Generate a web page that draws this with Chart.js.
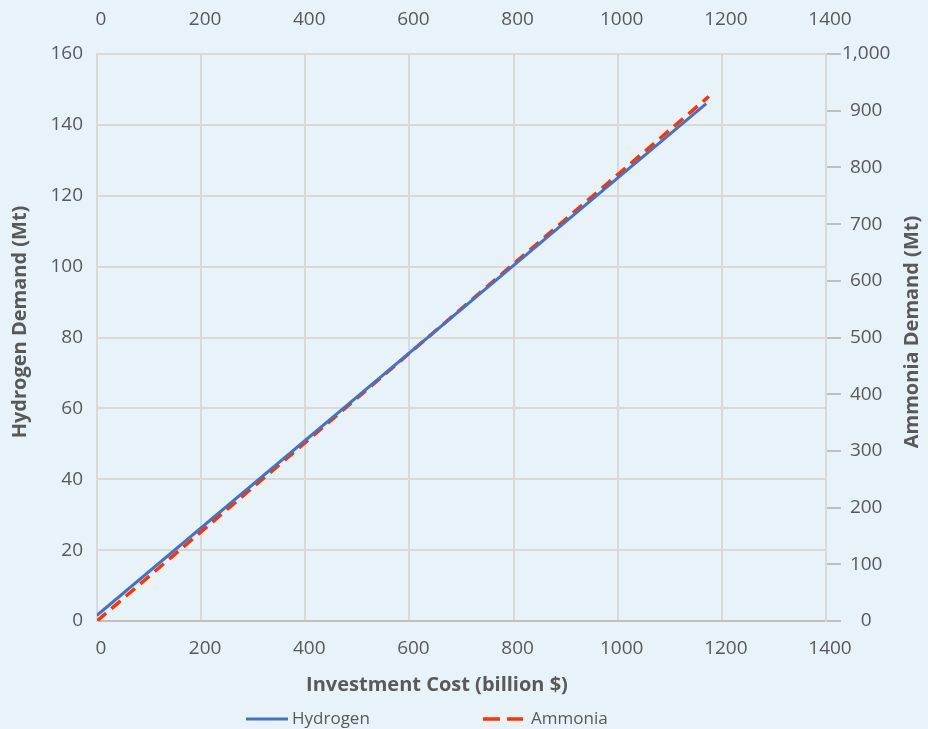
<!DOCTYPE html>
<html>
<head>
<meta charset="utf-8">
<script src="https://cdn.jsdelivr.net/npm/chart.js@4.4.1/dist/chart.umd.min.js"></script>
<style>
  html, body { margin: 0; padding: 0; background: #e8f2f9; }
  #wrap { width: 928px; height: 729px; position: relative; }
</style>
</head>
<body>
<div id="wrap"><canvas id="chart"></canvas></div>
<script>
// ── Data ────────────────────────────────────────────────────────────────────
const COST_H   = [0, 1170];      // billion $
const HYDROGEN = [1.6, 146];     // Mt
const COST_A   = [0, 1175];      // billion $
const AMMONIA  = [0, 925];       // Mt

const X_TICKS  = [0, 200, 400, 600, 800, 1000, 1200, 1400];
const Y_TICKS  = [0, 20, 40, 60, 80, 100, 120, 140, 160];
const Y2_TICKS = [0, 100, 200, 300, 400, 500, 600, 700, 800, 900, 1000];

const X_TITLE  = 'Investment Cost (billion $)';
const Y_TITLE  = 'Hydrogen Demand (Mt)';
const Y2_TITLE = 'Ammonia Demand (Mt)';

// ── Style ───────────────────────────────────────────────────────────────────
const TEXT   = '#595959';
const GRID   = '#d9d9d9';
const AXIS   = '#bfbfbf';
const FONT   = "'Open Sans', sans-serif";
const TICK_FONT = { family: FONT, size: 19 };

const toPts = (xs, ys) => xs.map((x, i) => ({ x, y: ys[i] }));
const fixTicks = list => scale => { scale.ticks = list.map(v => ({ value: v })); };

// titles + legend drawn by hand (Excel-like placement)
const decor = {
  id: 'decor',
  afterDraw(chart) {
    const ctx = chart.ctx;
    ctx.save();
    ctx.fillStyle = TEXT;
    ctx.textAlign = 'center';
    ctx.textBaseline = 'middle';
    ctx.font = `bold 20px ${FONT}`;
    ctx.fillText(X_TITLE, 437, 685);

    ctx.save();
    ctx.translate(20, 322);
    ctx.rotate(-Math.PI / 2);
    ctx.fillText(Y_TITLE, 0, 0);
    ctx.restore();

    ctx.save();
    ctx.translate(912, 332);
    ctx.rotate(-Math.PI / 2);
    ctx.fillText(Y2_TITLE, 0, 0);
    ctx.restore();

    // legend
    const slots = [
      { x: 246, w: 42, gap: 4, dash: [] },
      { x: 483, w: 40, gap: 8, dash: [17, 7] },
    ];
    ctx.font = `17px ${FONT}`;
    ctx.textAlign = 'left';
    chart.data.datasets.forEach((ds, i) => {
      const s = slots[i];
      const y = 719;
      ctx.beginPath();
      ctx.strokeStyle = ds.borderColor;
      ctx.lineWidth = ds.borderWidth;
      ctx.setLineDash(s.dash);
      ctx.moveTo(s.x, y);
      ctx.lineTo(s.x + s.w, y);
      ctx.stroke();
      ctx.setLineDash([]);
      ctx.fillText(ds.label, s.x + s.w + s.gap, y);
    });
    ctx.restore();
  }
};

new Chart(document.getElementById('chart'), {
  type: 'scatter',
  data: {
    datasets: [
      {
        label: 'Hydrogen',
        data: toPts(COST_H, HYDROGEN),
        showLine: true,
        borderColor: '#4472c4',
        borderWidth: 3,
        pointRadius: 0,
        xAxisID: 'x',
        yAxisID: 'y',
      },
      {
        label: 'Ammonia',
        data: toPts(COST_A, AMMONIA),
        showLine: true,
        borderColor: '#ff3300',
        borderWidth: 3.5,
        borderDash: [12, 7],
        pointRadius: 0,
        xAxisID: 'x2',
        yAxisID: 'y2',
      },
    ]
  },
  options: {
    responsive: true,
    maintainAspectRatio: false,
    animation: false,
    layout: { padding: { left: 0, right: 0, top: 0, bottom: 29 } },
    plugins: {
      legend:  { display: false },
      tooltip: { enabled: false },
    },
    scales: {
      x: {
        type: 'linear', position: 'bottom', min: 0, max: 1400,
        afterBuildTicks: fixTicks(X_TICKS),
        afterFit: s => { s.height = 79; },
        ticks: { color: TEXT, font: TICK_FONT, padding: 16, labelOffset: 4, maxRotation: 0, callback: v => String(v) },
        grid:  { color: GRID, lineWidth: 2, drawTicks: false },
        border: { color: AXIS, width: 2 },
      },
      x2: {
        type: 'linear', position: 'top', min: 0, max: 1400,
        afterBuildTicks: fixTicks(X_TICKS),
        afterFit: s => { s.height = 54; },
        ticks: { color: TEXT, font: TICK_FONT, padding: 23, labelOffset: 4, maxRotation: 0, callback: v => String(v) },
        grid:  { display: false, drawTicks: false },
        border: { display: false },
      },
      y: {
        type: 'linear', position: 'left', min: 0, max: 160,
        afterBuildTicks: fixTicks(Y_TICKS),
        afterFit: s => { s.width = 97; },
        ticks: { color: TEXT, font: TICK_FONT, padding: 14 },
        grid:  { color: GRID, lineWidth: 2, drawTicks: false },
        border: { color: GRID, width: 2 },
      },
      y2: {
        type: 'linear', position: 'right', min: 0, max: 1000,
        afterBuildTicks: fixTicks(Y2_TICKS),
        afterFit: s => { s.width = 102; },
        ticks: {
          color: TEXT, font: TICK_FONT, padding: 1, crossAlign: 'center',
          callback: v => v.toLocaleString('en-US'),
        },
        grid:  { drawOnChartArea: false, drawTicks: true, tickLength: 15, color: AXIS, lineWidth: 2 },
        border: { color: GRID, width: 2 },
      },
    }
  },
  plugins: [decor]
});
</script>
</body>
</html>
